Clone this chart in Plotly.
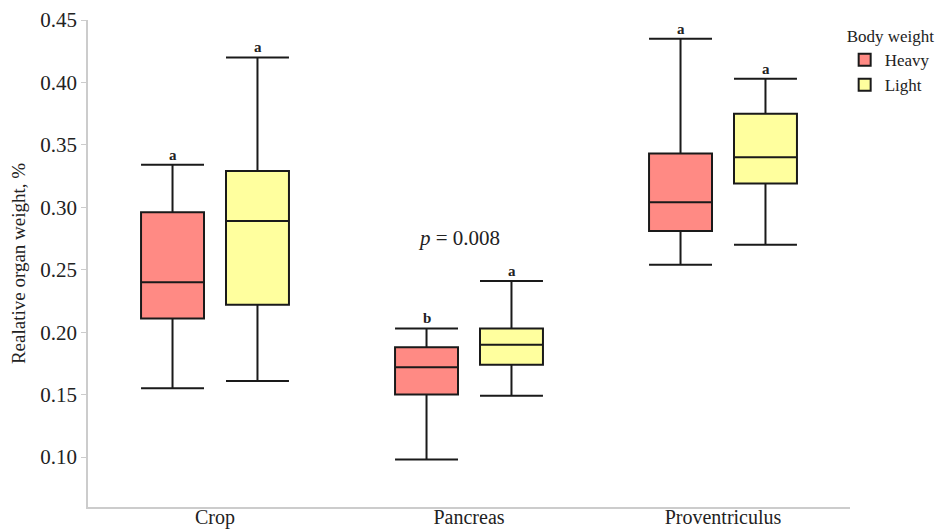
import plotly.graph_objects as go

organs = ["Crop", "Pancreas", "Proventriculus"]

heavy_low = [0.155, 0.098, 0.254]
heavy_q1 = [0.211, 0.150, 0.281]
heavy_med = [0.240, 0.172, 0.304]
heavy_q3 = [0.296, 0.188, 0.343]
heavy_high = [0.334, 0.203, 0.435]
heavy_letters = ["a", "b", "a"]

light_low = [0.161, 0.149, 0.270]
light_q1 = [0.222, 0.174, 0.319]
light_med = [0.289, 0.190, 0.340]
light_q3 = [0.329, 0.203, 0.375]
light_high = [0.420, 0.241, 0.403]
light_letters = ["a", "a", "a"]

p_text = "<i>p</i> = 0.008"
p_y = 0.2755

FONT = "Liberation Serif, Times New Roman, serif"

fig = go.Figure()
fig.add_trace(go.Box(
    name="Heavy", x=organs, q1=heavy_q1, median=heavy_med, q3=heavy_q3,
    lowerfence=heavy_low, upperfence=heavy_high,
    fillcolor="#FF8A84", line=dict(color="#1a1a1a", width=2),
    whiskerwidth=1, boxpoints=False, hoverinfo="skip"))
fig.add_trace(go.Box(
    name="Light", x=organs, q1=light_q1, median=light_med, q3=light_q3,
    lowerfence=light_low, upperfence=light_high,
    fillcolor="#FFFF9E", line=dict(color="#1a1a1a", width=2),
    whiskerwidth=1, boxpoints=False, hoverinfo="skip"))

annotations = []
for org, hi, lt in zip(organs, heavy_high, heavy_letters):
    annotations.append(dict(x=org, y=hi, text="<b>%s</b>" % lt, xref="x", yref="y",
                            xshift=-42.5, yshift=0, yanchor="bottom", showarrow=False,
                            font=dict(family=FONT, size=15, color="#222")))
for org, hi, lt in zip(organs, light_high, light_letters):
    annotations.append(dict(x=org, y=hi, text="<b>%s</b>" % lt, xref="x", yref="y",
                            xshift=42.5, yshift=0, yanchor="bottom", showarrow=False,
                            font=dict(family=FONT, size=15, color="#222")))
annotations.append(dict(x="Pancreas", y=p_y, text=p_text, xref="x", yref="y",
                        xshift=-10, showarrow=False,
                        font=dict(family=FONT, size=21, color="#222")))

fig.update_layout(
    width=948, height=530,
    margin=dict(l=80, r=106, t=12, b=31, autoexpand=False),
    paper_bgcolor="white", plot_bgcolor="white",
    boxmode="group", boxgap=0.331, boxgroupgap=0.259,
    font=dict(family=FONT, color="#222"),
    legend=dict(title=dict(text="Body weight", font=dict(family=FONT, size=17)),
                font=dict(family=FONT, size=17), x=0.993, xanchor="left",
                y=1.0, yanchor="top", tracegroupgap=0, itemwidth=30),
    annotations=annotations,
    showlegend=True,
)
fig.update_xaxes(showline=True, linecolor="#cccccc", linewidth=1.5, ticks="",
                 tickfont=dict(family=FONT, size=20, color="#222"), showgrid=False,
                 zeroline=False, range=[-0.5, 2.5], automargin=False,
                 ticklabelstandoff=-9)
fig.update_yaxes(showline=True, linecolor="#cccccc", linewidth=1.5, ticks="outside",
                 tickcolor="#cccccc", ticklen=5, range=[0.06, 0.45],
                 tickvals=[0.10, 0.15, 0.20, 0.25, 0.30, 0.35, 0.40, 0.45],
                 tickformat=".2f", showgrid=False, zeroline=False, automargin=False,
                 tickfont=dict(family=FONT, size=21, color="#222"),
                 title=dict(text="Realative organ weight, %", standoff=12,
                            font=dict(family=FONT, size=19, color="#222")))

fig.write_html("out.html")
